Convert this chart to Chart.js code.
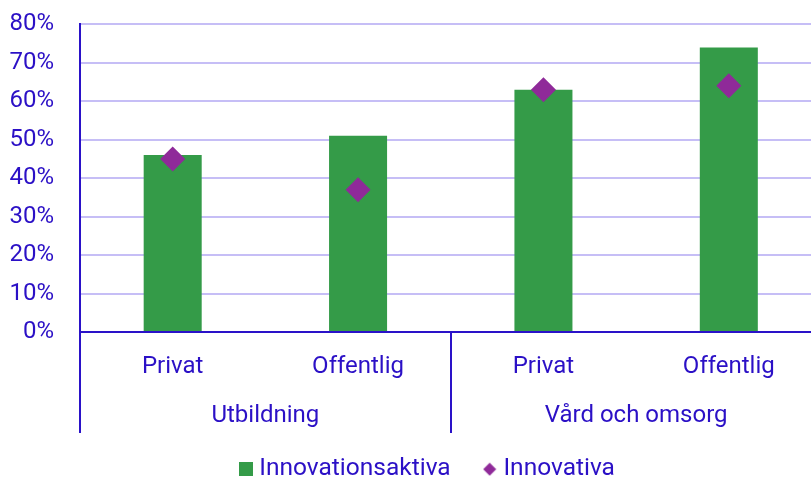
<!DOCTYPE html>
<html>
<head>
<meta charset="utf-8">
<script src="https://cdn.jsdelivr.net/npm/chart.js@4"></script>
<style>
  html, body { margin: 0; padding: 0; overflow: hidden; background: #ffffff; }
  #wrap { width: 834px; height: 479px; }
</style>
</head>
<body>
<div id="wrap"><canvas id="c" width="834" height="479"></canvas></div>
<script>
const categories = ['Privat', 'Offentlig', 'Privat', 'Offentlig'];
const groups = ['Utbildning', 'Vård och omsorg'];
const innovationsaktiva = [46, 51, 63, 74];
const innovativa = [45, 37, 63, 64];
const yTicks = [0, 10, 20, 30, 40, 50, 60, 70, 80];

const TXT = '#2B10C6';
const AXIS = '#2A12C8';
const GRID = '#C6BEF6';
const GREEN = '#349B48';
const PURPLE = '#8F2A99';

function makeIcon(kind) {
  const c = document.createElement('canvas');
  c.width = 14; c.height = 14;
  const g = c.getContext('2d');
  g.fillStyle = kind === 'square' ? GREEN : PURPLE;
  if (kind === 'square') {
    g.fillRect(0, 0, 14, 14);
  } else {
    g.beginPath();
    g.moveTo(7, 0.5); g.lineTo(13.5, 7); g.lineTo(7, 13.5); g.lineTo(0.5, 7);
    g.closePath(); g.fill();
  }
  return c;
}
const iconSquare = makeIcon('square');
const iconDiamond = makeIcon('diamond');

// place the legend box (layout only)
const legendBox = {
  id: 'legendBox',
  afterLayout(chart, args, opts) {
    const lg = chart.legend;
    if (!lg) return;
    lg.left = opts.left;
    lg.right = opts.right;
    lg.width = opts.right - opts.left;
    lg.top = opts.top;
    lg.bottom = chart.height;
    lg.height = chart.height - opts.top;
  }
};

new Chart(document.getElementById('c'), {
  type: 'bar',
  plugins: [legendBox],
  data: {
    labels: categories.map(function (c) { return ['', c]; }),
    datasets: [
      {
        type: 'bar',
        label: 'Innovationsaktiva',
        data: innovationsaktiva,
        backgroundColor: GREEN,
        borderWidth: 0,
        barPercentage: 1,
        categoryPercentage: 0.313,
        order: 2,
        xAxisID: 'x'
      },
      {
        type: 'line',
        label: 'Innovativa',
        data: innovativa,
        showLine: false,
        pointStyle: 'rectRot',
        pointRadius: 12.5,
        pointHoverRadius: 12.5,
        pointBackgroundColor: PURPLE,
        pointBorderWidth: 0,
        borderColor: PURPLE,
        backgroundColor: PURPLE,
        order: 1,
        xAxisID: 'x'
      }
    ]
  },
  options: {
    responsive: false,
    animation: false,
    devicePixelRatio: 1,
    layout: { padding: { left: 0, right: 3, top: 24.3, bottom: 6.5 } },
    plugins: {
      tooltip: { enabled: false },
      legendBox: { left: 37, right: 822, top: 419.5 },
      legend: {
        position: 'bottom',
        maxHeight: 31.5,
        labels: {
          color: TXT,
          font: { family: 'Roboto', size: 24.5 },
          usePointStyle: true,
          boxWidth: 3,
          boxHeight: 14,
          padding: 37.5,
          sort: function (a, b) { return a.datasetIndex - b.datasetIndex; },
          generateLabels: function (chart) {
            const items = Chart.defaults.plugins.legend.labels.generateLabels(chart);
            items.forEach(function (it) {
              it.pointStyle = it.datasetIndex === 0 ? iconSquare : iconDiamond;
            });
            return items;
          }
        }
      }
    },
    scales: {
      x: {
        type: 'category',
        position: 'bottom',
        weight: 0,
        offset: true,
        grid: {
          display: true,
          offset: true,
          drawOnChartArea: false,
          drawTicks: true,
          tickLength: 101,
          lineWidth: 2,
          tickWidth: 2,
          tickColor: function (ctx) {
            return (ctx.index === 0 || ctx.index === 2) ? AXIS : 'rgba(0,0,0,0)';
          },
          color: function (ctx) {
            return (ctx.index === 0 || ctx.index === 2) ? AXIS : 'rgba(0,0,0,0)';
          }
        },
        border: { display: true, color: AXIS, width: 2 },
        ticks: {
          color: TXT,
          font: { family: 'Roboto', size: 24, lineHeight: 69 / 24 },
          mirror: true,
          padding: 0,
          autoSkip: false,
          maxRotation: 0
        }
      },
      x2: {
        type: 'category',
        position: 'bottom',
        weight: 1,
        labels: groups,
        offset: true,
        grid: { display: false },
        border: { display: false },
        ticks: {
          color: TXT,
          font: { family: 'Roboto', size: 24, lineHeight: 34.8 / 24 },
          mirror: true,
          padding: 0,
          autoSkip: false,
          maxRotation: 0
        }
      },
      y: {
        min: 0,
        max: 80,
        afterBuildTicks: function (scale) {
          scale.ticks = yTicks.map(function (v) { return { value: v }; });
        },
        grid: {
          color: GRID,
          lineWidth: 2,
          drawTicks: false
        },
        border: { display: true, color: AXIS, width: 2 },
        ticks: {
          color: TXT,
          font: { family: 'Roboto', size: 24 },
          padding: 26,
          callback: function (v) { return v + '%'; }
        },
        afterFit: function (scale) {
          scale.width = 80;
          scale.paddingTop = 0;
          scale.paddingBottom = 0;
        }
      }
    }
  }
});
</script>
</body>
</html>
